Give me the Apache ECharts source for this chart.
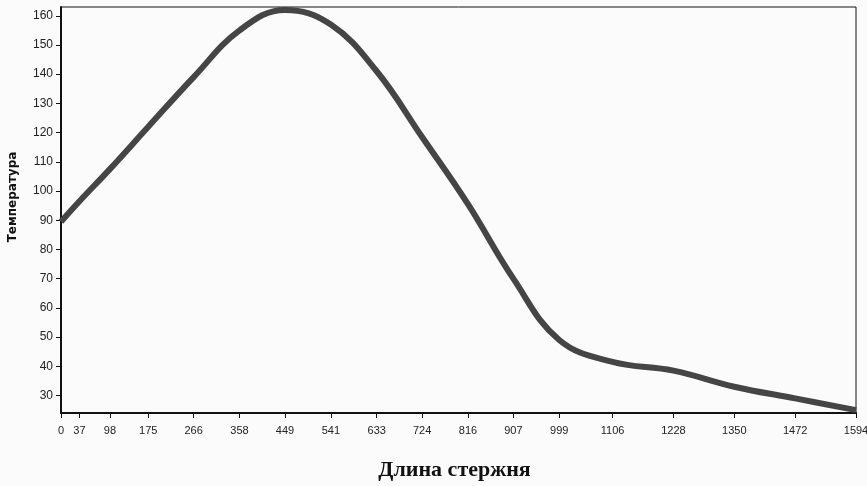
<!DOCTYPE html>
<html>
<head>
<meta charset="utf-8">
<script src="https://cdn.jsdelivr.net/npm/echarts@6/dist/echarts.min.js"></script>
<style>
html,body{margin:0;padding:0;background:#fbfbfb;}
#c{width:867px;height:486px;}
</style>
</head>
<body>
<div id="c"></div>
<script>
var positions = [0, 37, 98, 175, 266, 358, 449, 541, 633, 724, 816, 907, 999, 1106, 1228, 1350, 1472, 1594];
var temperatures = [89.5, 96.5, 107.5, 122, 139, 155, 162, 157, 141, 118.5, 95.5, 70, 49, 41.5, 38.5, 33, 29, 25];
var xTicks = [0, 37, 98, 175, 266, 358, 449, 541, 633, 724, 816, 907, 999, 1106, 1228, 1350, 1472, 1594];
var yTicks = [30, 40, 50, 60, 70, 80, 90, 100, 110, 120, 130, 140, 150, 160];

var data = positions.map(function (p, i) { return [p, temperatures[i]]; });

var chart = echarts.init(document.getElementById('c'));
chart.setOption({
  backgroundColor: '#fbfbfb',
  animation: false,
  grid: {
    left: 61, right: 11, top: 7, bottom: 73,
    containLabel: false,
    outerBoundsMode: 'none',
    show: true, borderColor: '#111', borderWidth: 1, backgroundColor: 'transparent'
  },
  xAxis: {
    type: 'value',
    min: 0, max: 1594,
    name: 'Длина стержня',
    nameLocation: 'middle',
    nameGap: 46,
    nameTextStyle: { fontFamily: 'Liberation Serif', fontWeight: 'bold', fontSize: 22, color: '#111', padding: [0, 8, 0, 0] },
    axisLine: { show: true, lineStyle: { color: '#111', width: 2 } },
    axisTick: { show: true, inside: false, length: 5, customValues: xTicks, lineStyle: { color: '#111', width: 1 } },
    axisLabel: { customValues: xTicks, margin: 12, fontFamily: 'Liberation Sans', fontSize: 11, color: '#222',
      formatter: function (v) { return String(v); } },
    splitLine: { show: false }
  },
  yAxis: {
    type: 'value',
    min: 24, max: 163,
    name: 'Температура',
    nameLocation: 'middle',
    nameGap: 42,
    nameRotate: 90,
    nameTextStyle: { fontFamily: 'DejaVu Sans', fontWeight: 'bold', fontSize: 12, color: '#111', padding: [0, 0, 0, 26] },
    axisLine: { show: true, lineStyle: { color: '#111', width: 2 } },
    axisTick: { show: true, inside: false, length: 5, customValues: yTicks, lineStyle: { color: '#111', width: 1 } },
    axisLabel: { customValues: yTicks, margin: 8, fontFamily: 'Liberation Sans', fontSize: 12, color: '#222',
      formatter: function (v) { return String(v); } },
    splitLine: { show: false }
  },
  series: [{
    type: 'line',
    data: data,
    smooth: 0.4,
    showSymbol: false,
    lineStyle: { color: '#454545', width: 6 },
    clip: true
  }]
});
</script>
</body>
</html>
